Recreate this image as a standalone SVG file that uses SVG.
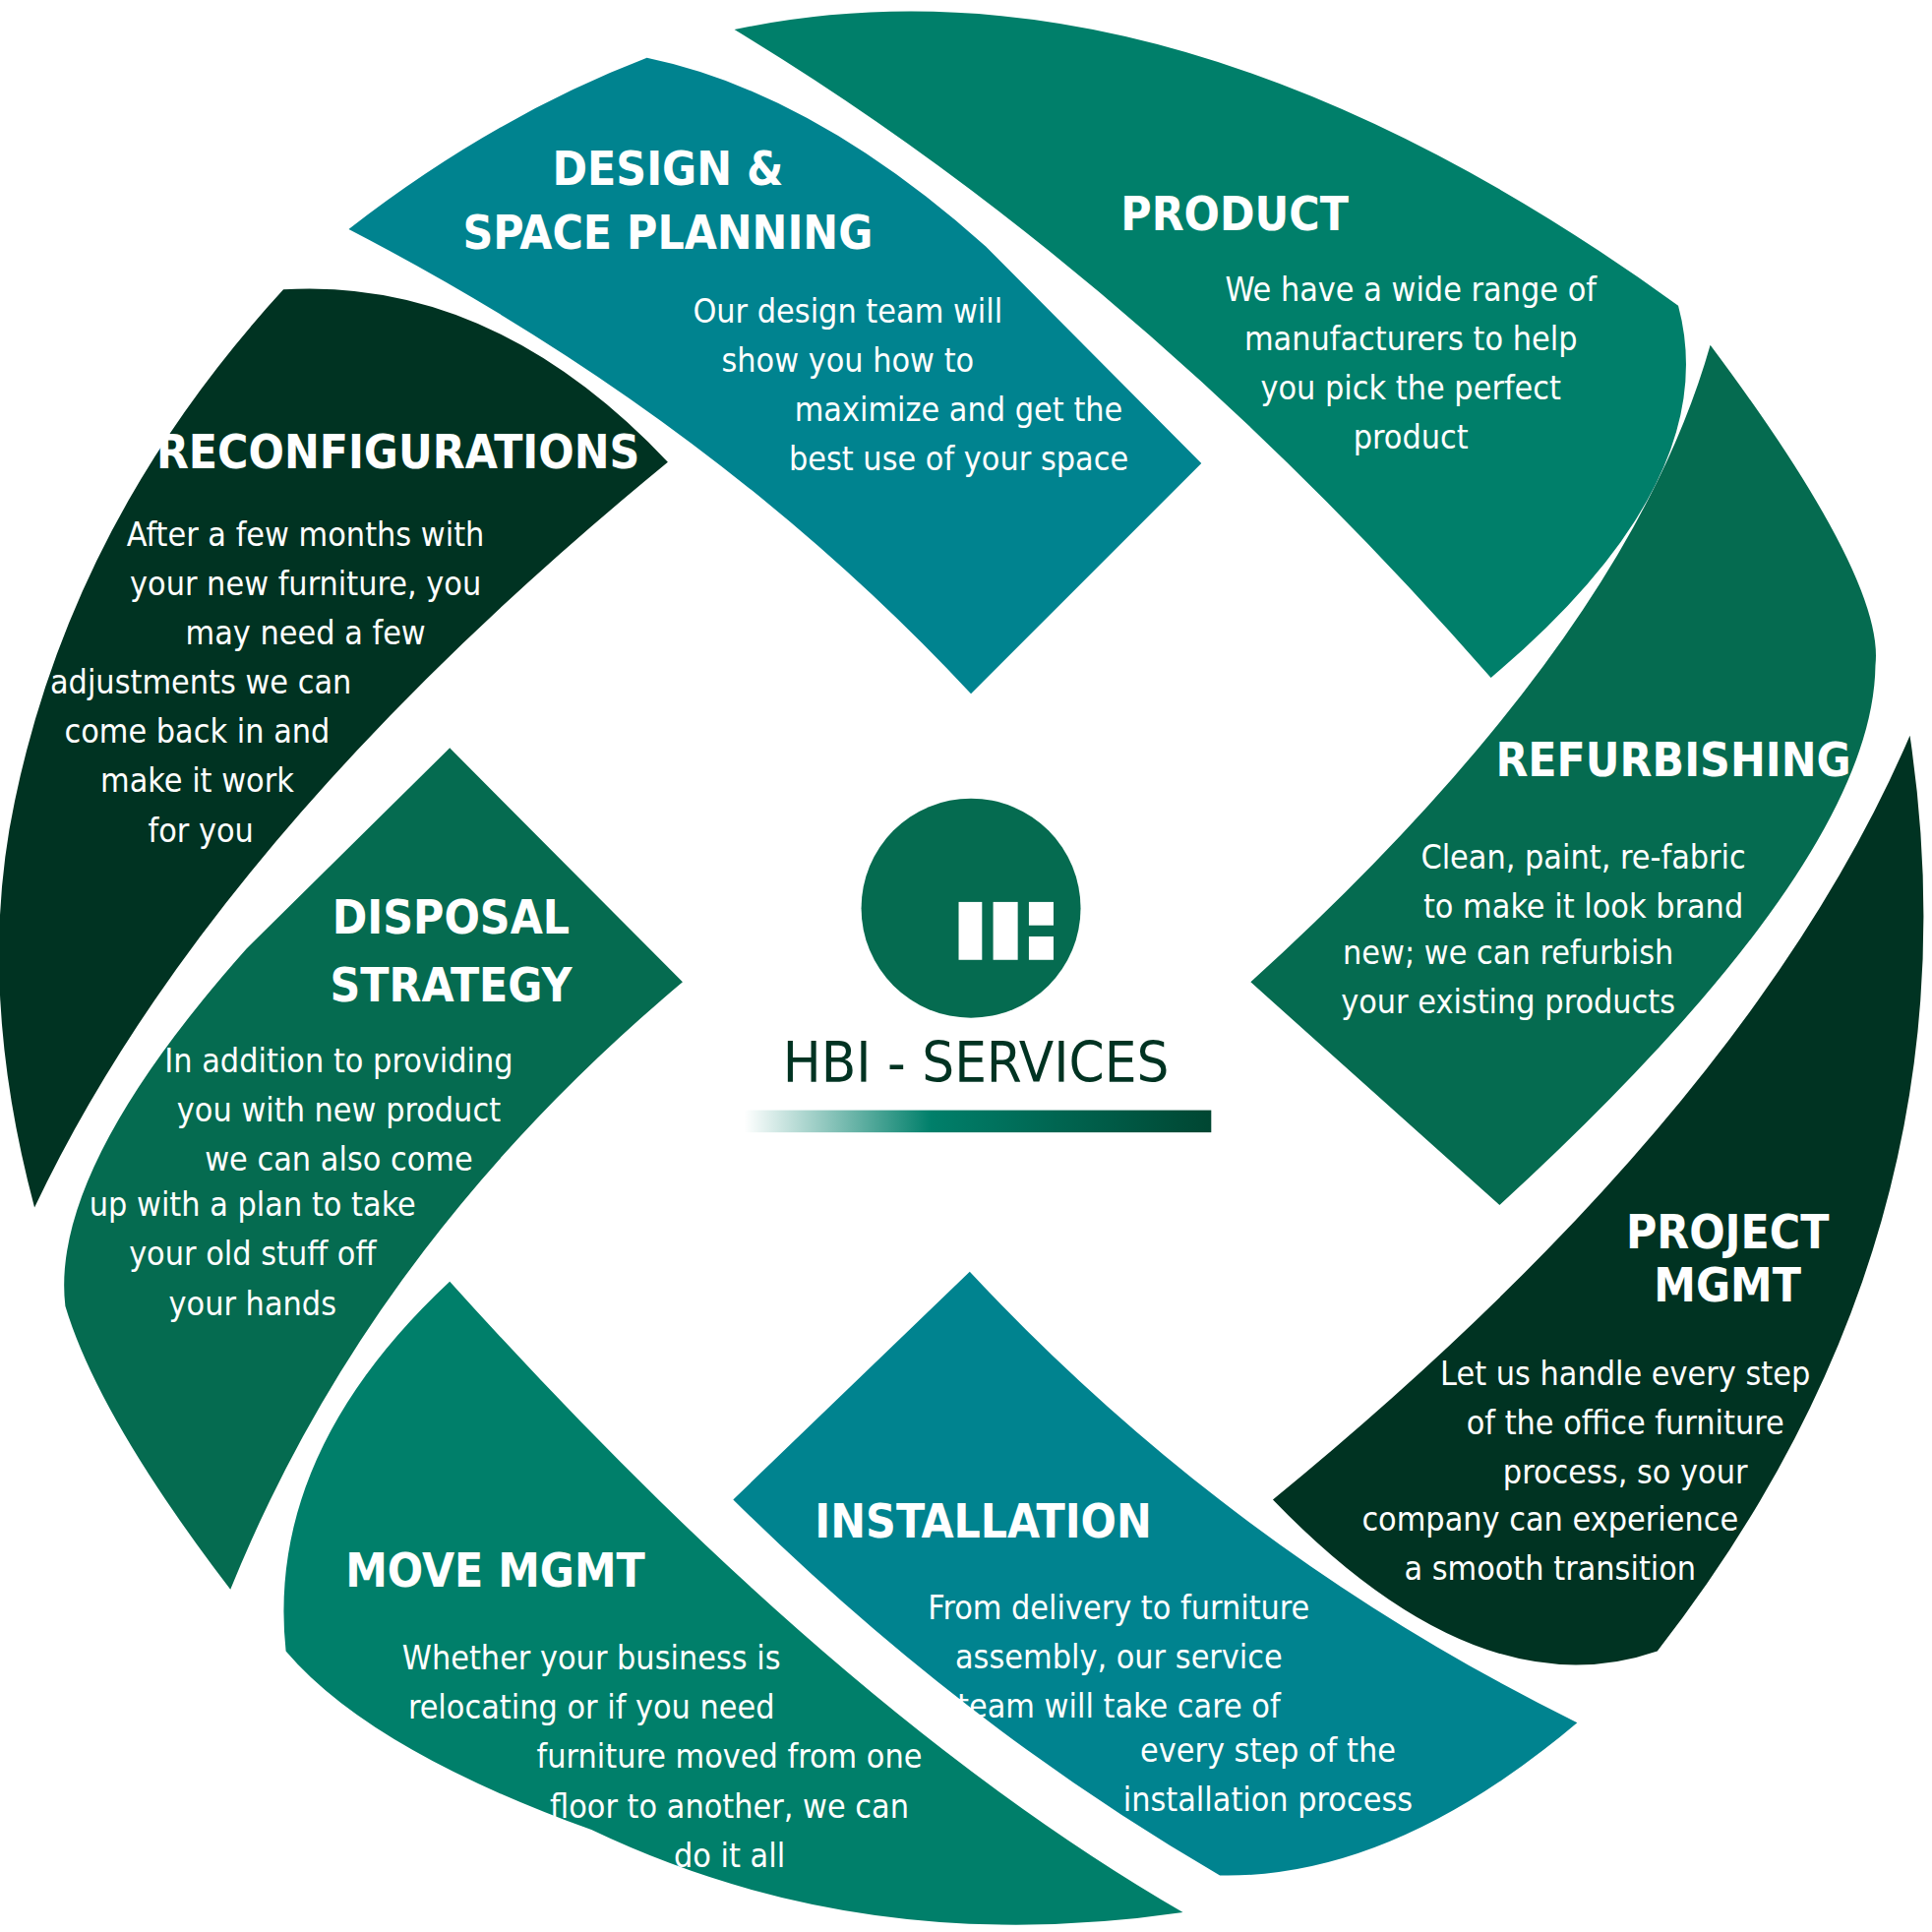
<svg xmlns="http://www.w3.org/2000/svg" width="1964" height="1964" viewBox="0 0 1964 1964">
<defs>
<style>
text{font-family:"DejaVu Sans Condensed","Liberation Sans",sans-serif;fill:#fff;text-anchor:middle}
.t{font-size:38px;font-weight:bold}
.b{font-size:27px}
</style>
<linearGradient id="g" x1="0" x2="1" y1="0" y2="0">
<stop offset="0" stop-color="#fff"/><stop offset="0.4" stop-color="#007F6A"/><stop offset="1" stop-color="#004632"/>
</linearGradient>
</defs>
<rect width="1964" height="1964" fill="#fff"/>
<g transform="scale(1.2526)">
<g id="design"><path d="M283,186 Q400,95 525,47 Q660,75 800,200 L975,376 L788,563 Q580,340 283,186 Z" fill="#00838F"/>
<text class="t" x="542" y="150">DESIGN &amp;</text><text class="t" x="542" y="202">SPACE PLANNING</text>
<text class="b" x="688" y="262">Our design team will</text><text class="b" x="688" y="302">show you how to</text><text class="b" x="778" y="342">maximize and get the</text><text class="b" x="778" y="382">best use of your space</text></g>
<g id="product"><path d="M596,24 Q950,-50 1362,248 Q1400,390 1210,550 Q920,220 596,24 Z" fill="#007F6A"/>
<text class="t" x="1002" y="187">PRODUCT</text>
<text class="b" x="1145" y="244">We have a wide range of</text><text class="b" x="1145" y="284">manufacturers to help</text><text class="b" x="1145" y="324">you pick the perfect</text><text class="b" x="1145" y="364">product</text></g>
<g id="reconfig"><path d="M230,235 Q400,225 542,375 Q170,680 28,980 Q-20,800 12,650 Q60,420 230,235 Z" fill="#003322"/>
<text class="t" x="323" y="380">RECONFIGURATIONS</text>
<text class="b" x="248" y="443">After a few months with</text><text class="b" x="248" y="483">your new furniture, you</text><text class="b" x="248" y="523">may need a few</text><text class="b" x="163" y="563">adjustments we can</text><text class="b" x="160" y="603">come back in and</text><text class="b" x="160" y="643">make it work</text><text class="b" x="163" y="683">for you</text></g>
<g id="refurb"><path d="M1388,280 Q1530,470 1522,540 Q1520,700 1217,978 L1015,797 Q1320,520 1388,280 Z" fill="#056B50"/>
<text class="t" x="1358" y="630">REFURBISHING</text>
<text class="b" x="1285" y="705">Clean, paint, re-fabric</text><text class="b" x="1285" y="745">to make it look brand</text><text class="b" x="1224" y="782">new; we can refurbish</text><text class="b" x="1224" y="822">your existing products</text></g>
<g id="disposal"><path d="M365,607 L554,797 Q300,1010 187,1290 Q80,1150 53,1060 Q40,950 200,770 Z" fill="#056B50"/>
<text class="t" x="366" y="758">DISPOSAL</text><text class="t" x="366" y="813">STRATEGY</text>
<text class="b" x="275" y="870">In addition to providing</text><text class="b" x="275" y="910">you with new product</text><text class="b" x="275" y="950">we can also come</text><text class="b" x="205" y="987">up with a plan to take</text><text class="b" x="205" y="1027">your old stuff off</text><text class="b" x="205" y="1067">your hands</text></g>
<g id="project"><path d="M1550,597 Q1610,1000 1345,1340 Q1200,1390 1033,1217 Q1420,900 1550,597 Z" fill="#003322"/>
<text class="t" x="1402" y="1013">PROJECT</text><text class="t" x="1402" y="1056">MGMT</text>
<text class="b" x="1319" y="1124">Let us handle every step</text><text class="b" x="1319" y="1164">of the office furniture</text><text class="b" x="1319" y="1204">process, so your</text><text class="b" x="1258" y="1242">company can experience</text><text class="b" x="1258" y="1282">a smooth transition</text></g>
<g id="install"><path d="M595,1217 L787,1032 Q1000,1260 1280,1398 Q1130,1525 990,1522 Q780,1400 595,1217 Z" fill="#00838F"/>
<text class="t" x="798" y="1248">INSTALLATION</text>
<text class="b" x="908" y="1314">From delivery to furniture</text><text class="b" x="908" y="1354">assembly, our service</text><text class="b" x="908" y="1394">team will take care of</text><text class="b" x="1029" y="1430">every step of the</text><text class="b" x="1029" y="1470">installation process</text></g>
<g id="move"><path d="M365,1040 Q680,1390 960,1552 Q700,1590 480,1485 Q300,1420 232,1340 Q215,1180 365,1040 Z" fill="#007F6A"/>
<text class="t" x="402" y="1288">MOVE MGMT</text>
<text class="b" x="480" y="1355">Whether your business is</text><text class="b" x="480" y="1395">relocating or if you need</text><text class="b" x="592" y="1435">furniture moved from one</text><text class="b" x="592" y="1475">floor to another, we can</text><text class="b" x="592" y="1515">do it all</text></g>
<g id="center"><circle cx="788" cy="737" r="89" fill="#056B50"/>
<rect x="778" y="732" width="19" height="47" fill="#fff"/><rect x="806" y="732" width="20" height="47" fill="#fff"/><rect x="835" y="732" width="20" height="19" fill="#fff"/><rect x="835" y="760" width="20" height="19" fill="#fff"/>
<text x="792" y="878" style="font-size:46px;fill:#003322">HBI - SERVICES</text>
<rect x="604" y="901" width="379" height="18" fill="url(#g)"/></g>
<g id="connectors"/>
</g>
</svg>
